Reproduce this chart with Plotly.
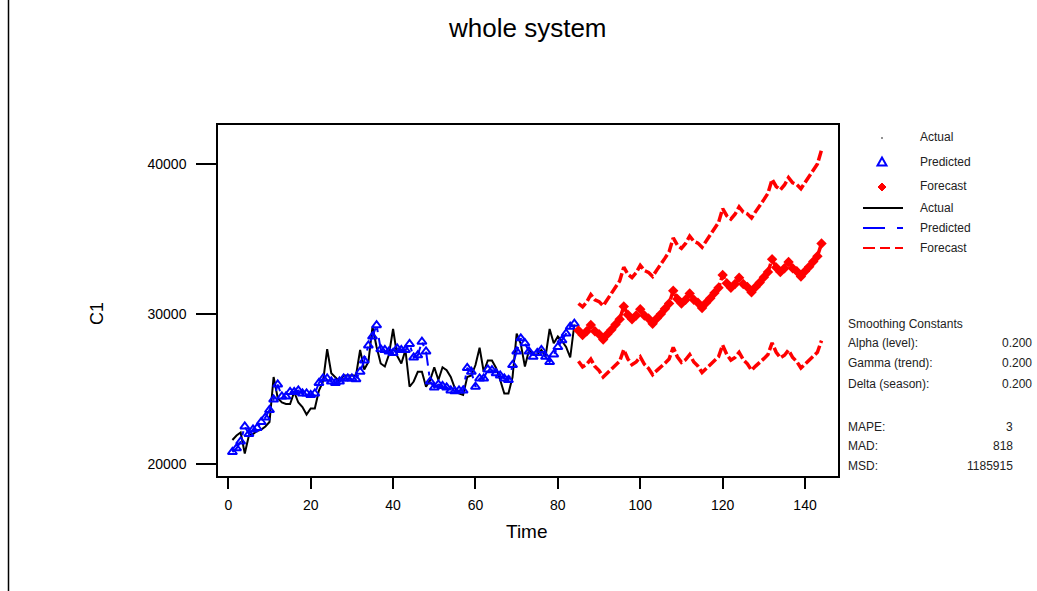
import plotly.graph_objects as go

# ---------------- data ----------------
time_actual = list(range(1, 85))
actual = [21600, 21900, 22100, 20700, 21900, 22000, 22200, 22300, 22500, 22800,
          25800, 24400, 24100, 24000, 24000, 24800, 24100, 23800, 23300, 23700,
          23700, 24900, 25500, 27650, 26050, 25800, 25500, 25900, 25900, 25900,
          25900, 27600, 26300, 26800, 29150, 27800, 26700, 26500, 27300, 29000,
          27200, 26700, 27600, 25150, 25500, 26150, 26150, 25150, 25600, 26450,
          25600, 26450, 26250, 25800, 25050, 24700, 24600, 25800, 25900, 26600,
          27750, 26150, 26900, 26900, 26400, 25600, 24700, 24700, 25800, 28700,
          28000, 26500, 27600, 27300, 27300, 27600, 27150, 29000, 28050, 28500,
          28200, 27800, 27100, 29300]
predicted = [20800, 21050, 21500, 22500, 22000, 22300, 22400, 22800, 23100, 23600,
             24300, 25300, 24500, 24500, 24800, 24800, 24900, 24700, 24700, 24600,
             24700, 25400, 25700, 25700, 25500, 25400, 25500, 25700, 25700, 25700,
             25650, 26150, 26900, 27900, 28500, 29250, 27650, 27600, 27500, 27400,
             27700, 27600, 27600, 28000, 27100, 27250, 28150, 27500, 25500, 25100,
             25300, 25200, 25100, 24900, 24850, 24900, 24900, 26400, 26150, 25150,
             25700, 25700, 26300, 26250, 26050, 25900, 25700, 25600, 26600, 27500,
             28380, 28050, 27500, 27150, 27400, 27600, 27150, 26800, 27300, 27800,
             28250, 28700, 29150, 29350]
time_forecast = list(range(85, 145))
forecast = [28900, 28600, 28850, 29270, 28850, 28650, 28300, 28650, 28950, 29300, 29650, 30500,
            29950, 29650, 29900, 30320, 29900, 29700, 29350, 29700, 30000, 30350, 30700, 31550,
            31000, 30700, 30950, 31370, 30950, 30750, 30400, 30750, 31050, 31400, 31750, 32600,
            32050, 31750, 32000, 32420, 32000, 31800, 31450, 31800, 32100, 32450, 32800, 33650,
            33100, 32800, 33050, 33470, 33050, 32850, 32500, 32850, 33150, 33500, 33850, 34700]
upper = [30700, 30475, 30800, 31295, 30950, 30825, 30550, 30975, 31350, 31775, 32200, 33125,
         32650, 32425, 32750, 33245, 32900, 32775, 32500, 32925, 33300, 33725, 34150, 35075,
         34600, 34375, 34700, 35195, 34850, 34725, 34450, 34875, 35250, 35675, 36100, 37025,
         36550, 36325, 36650, 37145, 36800, 36675, 36400, 36825, 37200, 37625, 38050, 38975,
         38500, 38275, 38600, 39095, 38750, 38625, 38350, 38775, 39150, 39575, 40000, 40925]
lower = [26850, 26475, 26650, 26995, 26500, 26225, 25800, 26075, 26300, 26575, 26850, 27625,
         27000, 26625, 26800, 27145, 26650, 26375, 25950, 26225, 26450, 26725, 27000, 27775,
         27150, 26775, 26950, 27295, 26800, 26525, 26100, 26375, 26600, 26875, 27150, 27925,
         27300, 26925, 27100, 27445, 26950, 26675, 26250, 26525, 26750, 27025, 27300, 28075,
         27450, 27075, 27250, 27595, 27100, 26825, 26400, 26675, 26900, 27175, 27450, 28225]

x_ticks = [0, 20, 40, 60, 80, 100, 120, 140]
y_ticks = [20000, 30000, 40000]
y_tick_text = ["20000", "30000", "40000"]

legend_labels = ["Actual", "Predicted", "Forecast", "Actual", "Predicted", "Forecast"]
stat_labels = ["Alpha (level):", "Gamma (trend):", "Delta (season):"]
stat_values = ["0.200", "0.200", "0.200"]
acc_labels = ["MAPE:", "MAD:", "MSD:"]
acc_values = ["3", "818", "1185915"]

# ---------------- layout helpers ----------------
W, H = 1037, 591
L, R, T, B = 218, 838, 125, 476
FONT = "Arial, 'Liberation Sans', sans-serif"


def px(x):
    return (x - L) / (R - L)


def py(y):
    return (B - y) / (B - T)


def text(s, x, y, size=12, anchor="left", color="#222", angle=0):
    return dict(text=s, x=px(x), y=py(y), xref="paper", yref="paper",
                xanchor=anchor, yanchor="middle", showarrow=False, textangle=angle,
                font=dict(size=size, color=color, family=FONT))


fig = go.Figure()
fig.add_trace(go.Scatter(x=time_actual, y=actual, mode="lines",
                         line=dict(color="black", width=2), showlegend=False))
fig.add_trace(go.Scatter(x=time_actual, y=predicted, mode="lines+markers",
                         line=dict(color="#0000ff", width=2, dash="14px,6px,4px,6px"),
                         marker=dict(symbol="triangle-up-open", size=8, color="#0000ff",
                                     line=dict(width=2, color="#0000ff")),
                         showlegend=False))
for series in (upper, lower):
    fig.add_trace(go.Scatter(x=time_forecast, y=series, mode="lines",
                             line=dict(color="#ff0000", width=3.5, dash="10px,3px"),
                             showlegend=False))
fig.add_trace(go.Scatter(x=time_forecast, y=forecast, mode="lines+markers",
                         line=dict(color="#ff0000", width=3.5, dash="10px,3px"),
                         marker=dict(symbol="diamond", size=8, color="#ff0000"),
                         showlegend=False))

annotations = []
shapes = []

# title and axis titles
annotations.append(text("whole system", 527, 28, size=26, anchor="center", color="black"))
annotations.append(text("Time", 527, 531, size=19, anchor="center", color="black"))
annotations.append(text("C1", 97, 314, size=18, anchor="center", color="black", angle=-90))

# legend (drawn)
leg_y = [137, 162, 186, 208, 228, 248]
for lab, yy in zip(legend_labels, leg_y):
    annotations.append(text(lab, 918, yy))


def ppath(points):
    return "M " + " L ".join(f"{px(a)},{py(b)}" for a, b in points) + " Z"


# marker keys
shapes.append(dict(type="circle", xref="paper", yref="paper",
                   x0=px(881.2), x1=px(882.8), y0=py(137.2), y1=py(138.8),
                   fillcolor="black", line=dict(width=0)))
shapes.append(dict(type="path", xref="paper", yref="paper",
                   path=ppath([(882, 157.5), (877.5, 165.5), (886.5, 165.5)]),
                   line=dict(color="#0000ff", width=2)))
shapes.append(dict(type="path", xref="paper", yref="paper",
                   path=ppath([(882, 183), (886, 187), (882, 191), (878, 187)]),
                   fillcolor="#ff0000", line=dict(color="#ff0000", width=1)))
# line keys
shapes.append(dict(type="line", xref="paper", yref="paper", x0=px(863), x1=px(903),
                   y0=py(208), y1=py(208), line=dict(color="black", width=2)))
for a, b in ((863, 885), (897, 903)):
    shapes.append(dict(type="line", xref="paper", yref="paper", x0=px(a), x1=px(b),
                       y0=py(228), y1=py(228), line=dict(color="#0000ff", width=2)))
for a, b in ((863, 875), (880, 890), (895, 903)):
    shapes.append(dict(type="line", xref="paper", yref="paper", x0=px(a), x1=px(b),
                       y0=py(248), y1=py(248), line=dict(color="#ff0000", width=2)))

# statistics text
annotations.append(text("Smoothing Constants", 846, 324))
for lab, val, yy in zip(stat_labels, stat_values, [343, 363, 384]):
    annotations.append(text(lab, 846, yy))
    annotations.append(text(val, 1034, yy, anchor="right"))
for lab, val, yy in zip(acc_labels, acc_values, [427, 446, 466]):
    annotations.append(text(lab, 846, yy))
    annotations.append(text(val, 1015, yy, anchor="right"))

# outer left border
shapes.append(dict(type="line", xref="paper", yref="paper", x0=px(8.5), x1=px(8.5),
                   y0=py(0), y1=py(591), line=dict(color="black", width=1.5)))

fig.update_layout(
    width=W, height=H,
    margin=dict(l=L, r=W - R, t=T, b=H - B, pad=0),
    paper_bgcolor="white", plot_bgcolor="white",
    font=dict(family=FONT, color="black"),
    xaxis=dict(range=[-2.5, 148], tickvals=x_ticks, ticks="outside", ticklen=11,
               tickwidth=1.5, tickcolor="black", showline=True, linecolor="black",
               linewidth=1.5, mirror=True, showgrid=False, zeroline=False,
               tickfont=dict(size=14, color="black"), ticklabelstandoff=4),
    yaxis=dict(range=[19200, 42600], tickvals=y_ticks, ticktext=y_tick_text,
               ticks="outside", ticklen=20,
               tickwidth=1.5, tickcolor="black", showline=True, linecolor="black",
               linewidth=1.5, mirror=True, showgrid=False, zeroline=False,
               tickfont=dict(size=14, color="black"), ticklabelstandoff=7),
    annotations=annotations,
    shapes=shapes,
    showlegend=False,
)

fig.write_html("out.html")
